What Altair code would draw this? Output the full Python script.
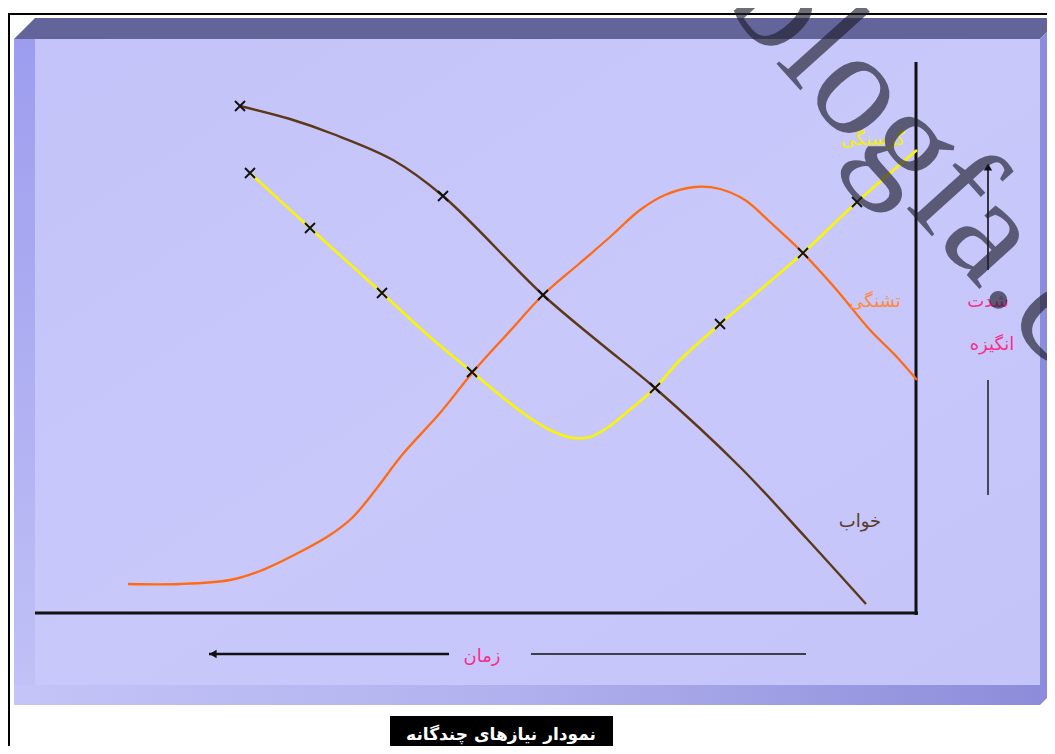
import altair as alt
import pandas as pd

# ---------------- data (diagram units: x to the right, y downwards) ----------------
brown_x = [240, 290, 333, 393, 443, 543, 600, 655, 740, 808, 866]
brown_y = [106, 119, 134, 160, 196, 295, 343, 388, 467, 540, 604]

orange_x = [128, 180, 230, 260, 300, 330, 352, 377, 402, 440, 473, 510, 543, 580, 610, 640, 665, 695, 720, 745, 770, 800, 835, 870, 895, 917]
orange_y = [584, 584, 580, 571, 552, 535, 518, 488, 455, 413, 372, 331, 295, 263, 237, 210, 195, 187, 189, 200, 222, 250, 288, 330, 355, 380]

yellow_x = [250, 310, 382, 430, 472, 523, 550, 573, 590, 607, 633, 655, 680, 720, 760, 803, 857, 917]
yellow_y = [173, 228, 293, 337, 372, 413, 430, 438, 437, 428, 407, 388, 360, 324, 290, 253, 202, 150]

marker_x = [240, 250, 310, 382, 443, 472, 543, 655, 720, 803, 857]
marker_y = [106, 173, 228, 293, 196, 372, 295, 388, 324, 253, 202]

label_text = ["گرسنگی", "تشنگی", "خواب", "شدت", "انگیزه", "زمان"]
label_x = [873, 875, 860, 988, 992, 482]
label_y = [140, 302, 522, 302, 345, 657]
label_color = ["#F4F000", "#FF8A3A", "#5A3A28", "#F5308A", "#F5308A", "#F5308A"]

title_text = "نمودار نیازهای چندگانه"
watermark_text = "blogfa.com"

# ---------------- scales ----------------
W, H = 1039, 738
xs = alt.Scale(domain=[8, 1047], nice=False, zero=False)
ys = alt.Scale(domain=[8, 746], nice=False, zero=False, reverse=True)


def X(f="x"):
    return alt.X(f"{f}:Q", scale=xs, axis=None)


def Y(f="y"):
    return alt.Y(f"{f}:Q", scale=ys, axis=None)


def df(**cols):
    return pd.DataFrame(cols)


layers = []

# outer black frame
frame = df(x=[8, 9], x2=[1047, 9], y=[14, 14], y2=[14, 746])
layers.append(alt.Chart(frame).mark_rule(color="#000000", strokeWidth=2).encode(
    x=X(), x2="x2:Q", y=Y(), y2="y2:Q"))

# top face of the slab
top_face = df(x=[14, 35, 1040, 1055], y=[39, 18, 18, 18], y2=[39, 39, 39, 24])
layers.append(alt.Chart(top_face).mark_area(color="#63649A", orient="vertical", clip=True).encode(
    x=X(), y=Y(), y2="y2:Q"))

# left face
left_face = df(x=[14], x2=[35], y=[39], y2=[705])
layers.append(alt.Chart(left_face).mark_rect(color=alt.Gradient(
    gradient="linear", x1=0, x2=0, y1=0, y2=1,
    stops=[alt.GradientStop(color="#9D9DEF", offset=0),
           alt.GradientStop(color="#B2B2F3", offset=0.6),
           alt.GradientStop(color="#C2C2F7", offset=1)])).encode(
    x=X(), x2="x2:Q", y=Y(), y2="y2:Q"))

# main face
main_face = df(x=[35], x2=[1040], y=[39], y2=[685])
layers.append(alt.Chart(main_face).mark_rect(color=alt.Gradient(
    gradient="linear", x1=0, x2=1, y1=0, y2=1,
    stops=[alt.GradientStop(color="#C3C3F9", offset=0),
           alt.GradientStop(color="#C8C8FB", offset=0.5),
           alt.GradientStop(color="#C4C4F9", offset=1)])).encode(
    x=X(), x2="x2:Q", y=Y(), y2="y2:Q"))

# bottom face
bottom_face = df(x=[14], x2=[1040], y=[685], y2=[705])
layers.append(alt.Chart(bottom_face).mark_rect(color=alt.Gradient(
    gradient="linear", x1=0, x2=1, y1=0, y2=0,
    stops=[alt.GradientStop(color="#C4C4F8", offset=0),
           alt.GradientStop(color="#B0B0EE", offset=0.5),
           alt.GradientStop(color="#8C8CDA", offset=1)])).encode(
    x=X(), x2="x2:Q", y=Y(), y2="y2:Q"))

# right face
right_face = df(x=[1040, 1055], y=[39, 24], y2=[705, 690])
layers.append(alt.Chart(right_face).mark_area(color="#8C8CDC", orient="vertical", clip=True).encode(
    x=X(), y=Y(), y2="y2:Q"))

# axes of the diagram
axes = df(x=[916, 35], x2=[916, 918], y=[62, 613], y2=[615, 613])
layers.append(alt.Chart(axes).mark_rule(color="#111111", strokeWidth=3).encode(
    x=X(), x2="x2:Q", y=Y(), y2="y2:Q"))

# curves
for xs_, ys_, col, sw in [(orange_x, orange_y, "#FF6A12", 2.3),
                          (brown_x, brown_y, "#5C3818", 2.4),
                          (yellow_x, yellow_y, "#FAF500", 2.6)]:
    layers.append(alt.Chart(df(x=xs_, y=ys_)).mark_line(
        color=col, strokeWidth=sw, interpolate="catmull-rom").encode(
        x=X(), y=Y(), order="x:Q"))

# x markers
layers.append(alt.Chart(df(x=marker_x, y=marker_y)).mark_point(
    shape="M-1,-1L1,1M-1,1L1,-1", filled=False, color="#111111",
    strokeWidth=1.9, size=100, opacity=1).encode(x=X(), y=Y()))

# arrows (intensity on the right, time at the bottom)
arrow_lines = df(x=[988, 988, 209, 531], x2=[988, 988, 449, 806],
                 y=[270, 380, 654, 654], y2=[166, 495, 654, 654],
                 w=[1.6, 1.4, 2.4, 1.4])
layers.append(alt.Chart(arrow_lines).mark_rule(color="#111111").encode(
    x=X(), x2="x2:Q", y=Y(), y2="y2:Q",
    strokeWidth=alt.StrokeWidth("w:Q", scale=None)))
heads = df(x=[988, 213], y=[167, 654], s=["triangle-up", "triangle-left"])
layers.append(alt.Chart(heads).mark_point(filled=True, color="#111111", size=70, opacity=1).encode(
    x=X(), y=Y(), shape=alt.Shape("s:N", scale=None)))

# labels
labels = df(x=label_x, y=label_y, t=label_text, c=label_color)
layers.append(alt.Chart(labels).mark_text(
    font="DejaVu Sans", fontSize=18, baseline="middle", align="center").encode(
    x=X(), y=Y(), text="t:N", color=alt.Color("c:N", scale=None)))

# title box
tbox = df(x=[390], x2=[613], y=[716], y2=[746])
layers.append(alt.Chart(tbox).mark_rect(color="#000000").encode(
    x=X(), x2="x2:Q", y=Y(), y2="y2:Q"))
layers.append(alt.Chart(df(x=[501], y=[735], t=[title_text])).mark_text(
    font="DejaVu Sans", fontSize=17, fontWeight="bold", color="#FFFFFF",
    baseline="middle", align="center").encode(x=X(), y=Y(), text="t:N"))

# watermark
layers.append(alt.Chart(df(x=[985], y=[228], t=[watermark_text])).mark_text(
    font="Liberation Serif", fontSize=150, angle=48, color="#202030", opacity=0.65,
    baseline="middle", align="center").encode(x=X(), y=Y(), text="t:N"))

chart = alt.layer(*layers).properties(
    width=W, height=H, padding=0, autosize=alt.AutoSizeParams(type="none"),
    background="#FFFFFF"
).configure_view(stroke=None)

chart.save("out.html", embed_options={"renderer": "svg", "actions": False})
